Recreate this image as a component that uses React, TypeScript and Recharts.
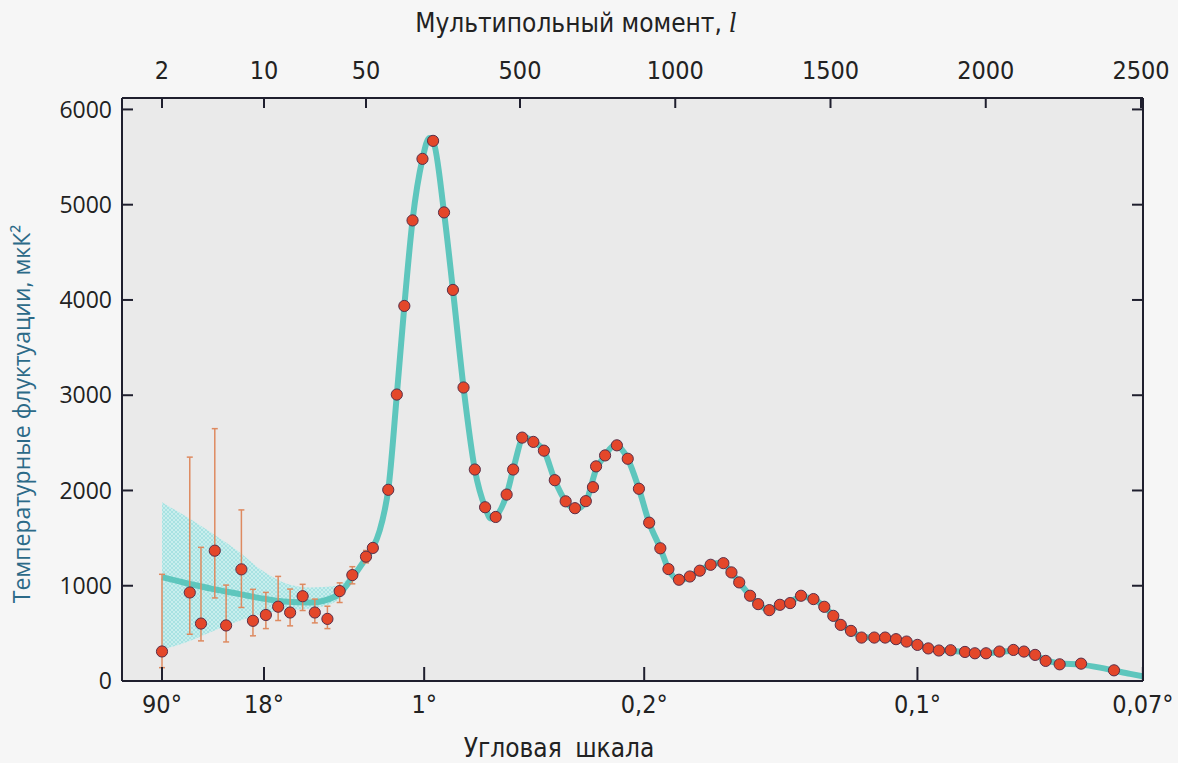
import React from "react";
import { ComposedChart, CartesianGrid, Line, Area, Scatter, XAxis, YAxis, ErrorBar } from "recharts";

// top axis: multipole moment l (log up to 50, linear above)
const L_TICKS = [2, 10, 50, 500, 1000, 1500, 2000, 2500];
// bottom axis: angular scale, placed at the l where the picture puts them
const ANGLE_LABELS = ["90°", "18°", "1°", "0,2°", "0,1°", "0,07°"];
const ANGLE_AT_L = [2, 10, 220, 900, 1780, 2506];
const Y_TICKS = [0, 1000, 2000, 3000, 4000, 5000, 6000];

// low-l points (with error bars)
const LOW_L = [2, 3.1, 3.7, 4.6, 5.5, 7, 8.4, 10.3, 12.5, 15.1, 18.4, 22.3, 27.2, 33, 40.3, 50];
const LOW_D = [310, 929, 603, 1368, 583, 1172, 632, 693, 780, 719, 890, 719, 652, 944, 1112, 1305];
const LOW_MIN = [140, 491, 421, 872, 410, 772, 474, 550, 635, 579, 740, 610, 550, 824, 1020, 1240];
const LOW_MAX = [1120, 2350, 1403, 2649, 1007, 1796, 962, 930, 1098, 965, 1015, 860, 785, 1030, 1200, 1370];

// binned points, l > 50
const BIN_L = [
  70, 115, 140, 162, 186, 215, 246, 278, 304, 335, 368, 398, 429, 461, 480, 507, 543, 577, 612, 647,
  677, 712, 735, 745, 774, 812, 847, 883, 916, 952, 978, 1012, 1047, 1079, 1114, 1155, 1181, 1206, 1241, 1267,
  1303, 1337, 1370, 1405, 1445, 1480, 1509, 1533, 1566, 1600, 1641, 1676, 1711, 1745, 1780, 1815, 1849, 1887, 1933, 1965,
  2001, 2044, 2089, 2123, 2159, 2193, 2238, 2307, 2413,
];
const BIN_D = [
  1397, 2007, 3007, 3937, 4835, 5481, 5670, 4919, 4105, 3081, 2220, 1824, 1722, 1957, 2220, 2555, 2510, 2418, 2108, 1886,
  1814, 1888, 2035, 2253, 2368, 2474, 2333, 2018, 1662, 1393, 1175, 1063, 1097, 1158, 1220, 1237, 1140, 1035, 895, 807,
  744, 800, 818, 895, 860, 779, 684, 589, 526, 456, 456, 456, 439, 414, 379, 342, 320, 323, 305, 291,
  291, 309, 326, 309, 274, 211, 175, 182, 112,
];

// best-fit model curve
const MODEL_L = [
  2, 3.1, 4.5, 6.8, 9.4, 13.6, 20.7, 31.5, 38.9, 50, 70, 90, 105, 115, 140, 162, 186, 215, 235, 246,
  278, 304, 335, 368, 398, 415, 461, 480, 513, 543, 577, 612, 647, 680, 712, 745, 774, 806, 847, 883,
  916, 952, 978, 1015, 1047, 1079, 1114, 1148, 1181, 1206, 1241, 1267, 1303, 1337, 1370, 1405, 1445, 1480, 1509, 1533,
  1566, 1600, 1641, 1676, 1711, 1745, 1780, 1815, 1849, 1887, 1933, 1965, 2001, 2044, 2089, 2123, 2159, 2193, 2238, 2307,
  2368, 2413, 2465, 2506,
];
const MODEL_D = [
  1090, 1018, 965, 912, 870, 835, 824, 895, 1053, 1290, 1397, 1580, 1800, 2007, 3000, 3937, 4835, 5480, 5700, 5670,
  4919, 4105, 3081, 2220, 1824, 1705, 1957, 2220, 2562, 2510, 2418, 2108, 1886, 1805, 1880, 2220, 2370, 2478, 2333, 2018,
  1662, 1393, 1175, 1058, 1097, 1158, 1220, 1242, 1140, 1035, 895, 807, 748, 795, 830, 885, 860, 779, 684, 595,
  526, 468, 452, 445, 432, 410, 380, 345, 326, 318, 305, 295, 292, 305, 318, 305, 270, 220, 185, 172,
  140, 110, 75, 50,
];

// cosmic variance band at low l
const BAND_L = [2, 3.1, 4.5, 6.8, 9.4, 13.6, 20.7, 31.5, 38.9, 45];
const BAND_LO = [330, 421, 526, 632, 700, 740, 760, 840, 1000, 1150];
const BAND_HI = [1877, 1702, 1544, 1351, 1175, 1035, 982, 1000, 1105, 1210];

const PLOT = { left: 122, right: 1143, top: 98, bottom: 681 };
const X_MAX = 1021;
const Y_MAX = 6120;
const NARROW = '"DejaVu Sans Condensed", "DejaVu Sans", sans-serif';
const NARROW_STYLE = { fontStretch: "condensed" as const };
const INK = "#1f1f2e";

// hybrid axis, in plot units
function lToX(l: number): number {
  if (l <= 50) return 40 + (Math.log10(l / 2) / Math.log10(25)) * 204;
  if (l <= 500) return 244 + ((l - 50) / 450) * 154;
  return 398 + (l - 500) * 0.3105;
}

function TopTick({ x, index }: any) {
  return (
    <g>
      <line x1={x} x2={x} y1={PLOT.top} y2={PLOT.top + 10} stroke={INK} strokeWidth={2} />
      <text x={x} y={79} textAnchor="middle" fontFamily={NARROW} style={NARROW_STYLE} fontSize={25} fill="#222">
        {L_TICKS[index]}
      </text>
    </g>
  );
}

function BottomTick({ x, index }: any) {
  return (
    <g>
      <line x1={x} x2={x} y1={PLOT.bottom} y2={PLOT.bottom - 14} stroke={INK} strokeWidth={2} />
      <text x={x} y={713} textAnchor="middle" fontFamily={NARROW} style={NARROW_STYLE} fontSize={25} fill="#222">
        {ANGLE_LABELS[index]}
      </text>
    </g>
  );
}

function LeftTick({ y, payload }: any) {
  return (
    <g>
      <line x1={PLOT.left} x2={PLOT.left + 11} y1={y} y2={y} stroke={INK} strokeWidth={2} />
      <text x={PLOT.left - 10} y={y} dy="0.36em" textAnchor="end" fontFamily="Open Sans, sans-serif" fontSize={23} fill="#222">
        {payload.value}
      </text>
    </g>
  );
}

function RightTick({ y }: any) {
  return <line x1={PLOT.right} x2={PLOT.right - 11} y1={y} y2={y} stroke={INK} strokeWidth={2} />;
}

const dot = (p: any) => (
  <circle cx={p.cx} cy={p.cy} r={5.6} fill="#e4472a" stroke="#5a2f48" strokeWidth={1} />
);

export default function App() {
  const lowPts = LOW_L.map((l, i) => ({
    x: lToX(l),
    y: LOW_D[i],
    err: [LOW_D[i] - LOW_MIN[i], LOW_MAX[i] - LOW_D[i]],
  }));
  const binPts = BIN_L.map((l, i) => ({ x: lToX(l), y: BIN_D[i] }));
  const model = MODEL_L.map((l, i) => ({ x: lToX(l), y: MODEL_D[i] }));
  const band = BAND_L.map((l, i) => ({ x: lToX(l), range: [BAND_LO[i], BAND_HI[i]] }));
  const axisLine = { stroke: INK, strokeWidth: 2 };

  return (
    <div style={{ position: "relative", width: 1178, height: 763, background: "#f6f6f6" }}>
      <style>{`body{margin:0}`}</style>
      <ComposedChart width={1178} height={763} margin={{ top: 38, right: 30, bottom: 22, left: 60 }}>
        <defs>
          <pattern id="cvHatch" width="4" height="4" patternUnits="userSpaceOnUse">
            <rect width="4" height="4" fill="#c4eeed" />
            <path d="M0 0 L4 4 M4 0 L0 4" stroke="#8ad9d8" strokeWidth="0.6" />
          </pattern>
        </defs>
        <CartesianGrid xAxisId="b" yAxisId="l" horizontal={false} vertical={false} fill="#eaeaea" fillOpacity={1} />
        <XAxis
          xAxisId="b"
          dataKey="x"
          type="number"
          domain={[0, X_MAX]}
          ticks={ANGLE_AT_L.map(lToX)}
          interval={0}
          tick={<BottomTick />}
          tickLine={false}
          axisLine={axisLine}
          height={60}
          allowDataOverflow
        />
        <XAxis
          xAxisId="t"
          orientation="top"
          dataKey="x"
          type="number"
          domain={[0, X_MAX]}
          ticks={L_TICKS.map(lToX)}
          interval={0}
          tick={<TopTick />}
          tickLine={false}
          axisLine={axisLine}
          height={60}
          allowDataOverflow
        />
        <YAxis
          yAxisId="l"
          type="number"
          domain={[0, Y_MAX]}
          ticks={Y_TICKS}
          interval={0}
          tick={<LeftTick />}
          tickLine={false}
          axisLine={axisLine}
          width={62}
          allowDataOverflow
        />
        <YAxis
          yAxisId="r"
          orientation="right"
          type="number"
          domain={[0, Y_MAX]}
          ticks={Y_TICKS}
          interval={0}
          tick={<RightTick />}
          tickLine={false}
          axisLine={axisLine}
          width={5}
          allowDataOverflow
        />
        <Area
          xAxisId="b"
          yAxisId="l"
          data={band}
          dataKey="range"
          type="monotone"
          stroke="none"
          fill="url(#cvHatch)"
          fillOpacity={0.9}
          isAnimationActive={false}
        />
        <Line
          xAxisId="b"
          yAxisId="l"
          data={model}
          dataKey="y"
          type="monotone"
          stroke="#5ec6bd"
          strokeWidth={6}
          dot={false}
          isAnimationActive={false}
        />
        <Scatter xAxisId="b" yAxisId="l" data={lowPts} dataKey="y" shape={dot} isAnimationActive={false}>
          <ErrorBar dataKey="err" direction="y" width={3} stroke="#de8a60" strokeWidth={1.5} />
        </Scatter>
        <Scatter xAxisId="b" yAxisId="l" data={binPts} dataKey="y" shape={dot} isAnimationActive={false} />
      </ComposedChart>
      <svg width={1178} height={763} style={{ position: "absolute", left: 0, top: 0, pointerEvents: "none" }}>
        <text x={576} y={32} textAnchor="middle" fontFamily={NARROW} style={NARROW_STYLE} fontSize={26} fill="#222">
          Мультипольный момент, <tspan fontStyle="italic" fontFamily="DejaVu Serif, serif">l</tspan>
        </text>
        <text x={559} y={757} textAnchor="middle" fontFamily={NARROW} style={NARROW_STYLE} fontSize={26} fill="#222" wordSpacing={6}>
          Угловая шкала
        </text>
        <text
          transform="translate(30,414) rotate(-90)"
          textAnchor="middle"
          fontFamily="Open Sans, sans-serif"
          fontSize={23}
          fill="#2c6a88"
        >
          Температурные флуктуации, мкК²
        </text>
      </svg>
    </div>
  );
}
